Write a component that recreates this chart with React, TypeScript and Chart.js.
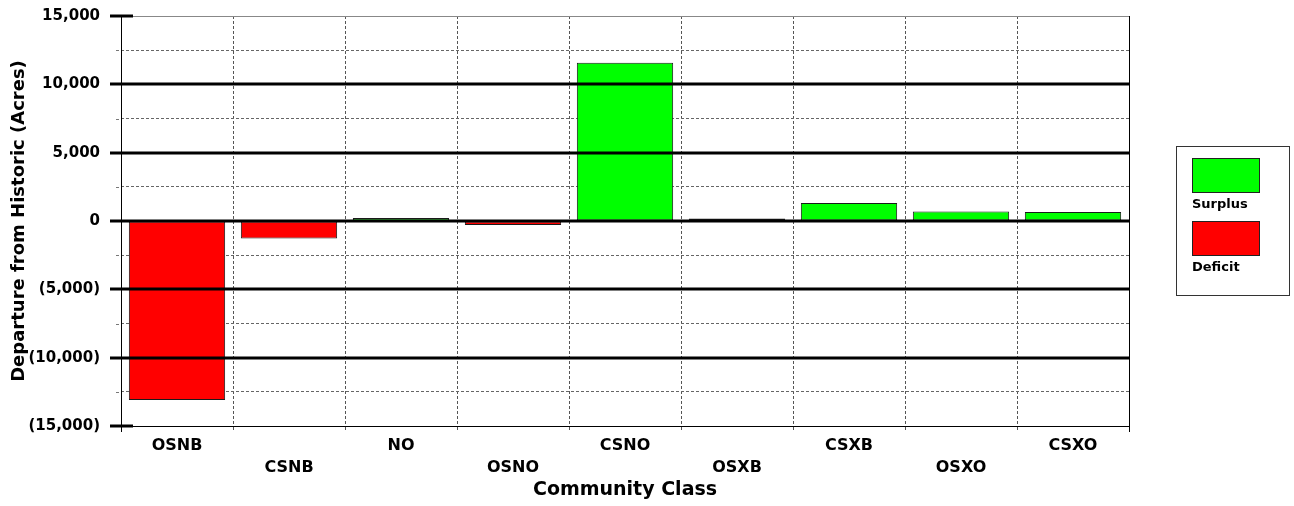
import React, { useEffect, useRef } from "react";
import { Chart, registerables } from "chart.js";

Chart.register(...registerables);

const categories = ["OSNB", "CSNB", "NO", "OSNO", "CSNO", "OSXB", "CSXB", "OSXO", "CSXO"];
const departures = [-13100, -1280, 220, -300, 11580, 180, 1320, 700, 650];
const yTickValues = [-15000, -10000, -5000, 0, 5000, 10000, 15000];
const legendLabels = ["Surplus", "Deficit"];
const xTitle = "Community Class";
const yTitle = "Departure from Historic (Acres)";

const FONT = "'DejaVu Sans', sans-serif";
const GREEN = "#00FF00";
const RED = "#FF0000";

function fmt(v: number): string {
  if (v === 0) return "0";
  const s = Math.abs(v).toLocaleString("en-US");
  return v < 0 ? `(${s})` : s;
}

const isMajor = (v: number) => v % 5000 === 0;

const decorPlugin = {
  id: "decor",
  afterDatasetsDraw(chart: any) {
    const ctx = chart.ctx as CanvasRenderingContext2D;
    const { left, right, top, bottom } = chart.chartArea;
    const y = chart.scales.y;
    ctx.save();
    // Major grid lines drawn over the bars
    for (const v of yTickValues) {
      const py = Math.round(y.getPixelForValue(v));
      ctx.beginPath();
      ctx.strokeStyle = "#000";
      ctx.lineWidth = 3;
      if (Math.abs(v) === 15000) {
        ctx.moveTo(left - 11, py);
        ctx.lineTo(left + 12, py);
      } else {
        ctx.moveTo(left - 11, py);
        ctx.lineTo(right, py);
      }
      ctx.stroke();
    }
    // Minor tick stubs
    for (let v = -12500; v <= 12500; v += 5000) {
      const py = Math.round(y.getPixelForValue(v)) + 0.5;
      ctx.beginPath();
      ctx.strokeStyle = "#777";
      ctx.lineWidth = 1;
      ctx.setLineDash([3, 2]);
      ctx.moveTo(left - 5, py);
      ctx.lineTo(left, py);
      ctx.stroke();
    }
    ctx.setLineDash([]);
    // Left and right borders (solid, extend slightly below)
    ctx.beginPath();
    ctx.strokeStyle = "#000";
    ctx.lineWidth = 1;
    ctx.moveTo(left + 0.5, top);
    ctx.lineTo(left + 0.5, bottom + 6);
    ctx.moveTo(right + 0.5, top);
    ctx.lineTo(right + 0.5, bottom + 6);
    ctx.stroke();
    ctx.restore();
  },
  afterDraw(chart: any) {
    const ctx = chart.ctx as CanvasRenderingContext2D;
    ctx.save();
    // Legend box
    const bx = 1176, by = 146, bw = 113, bh = 149;
    ctx.fillStyle = "#fff";
    ctx.fillRect(bx, by, bw, bh);
    ctx.strokeStyle = "#333";
    ctx.lineWidth = 1;
    ctx.strokeRect(bx + 0.5, by + 0.5, bw, bh);
    const colors = [GREEN, RED];
    const swY = [158, 221];
    ctx.font = `bold 13px ${FONT}`;
    ctx.textAlign = "left";
    ctx.textBaseline = "top";
    legendLabels.forEach((lab, i) => {
      ctx.fillStyle = colors[i];
      ctx.fillRect(1192, swY[i], 67, 34);
      ctx.strokeStyle = "#222";
      ctx.strokeRect(1192.5, swY[i] + 0.5, 67, 34);
      ctx.fillStyle = "#000";
      ctx.fillText(lab, 1192, swY[i] + 40);
    });
    ctx.restore();
  },
};

export default function App() {
  const ref = useRef<HTMLCanvasElement | null>(null);
  useEffect(() => {
    if (!ref.current) return;
    const surplus = departures.map((v) => (v > 0 ? v : null));
    const deficit = departures.map((v) => (v < 0 ? v : null));
    const chart = new Chart(ref.current, {
      type: "bar",
      data: {
        labels: categories,
        datasets: [
          {
            label: legendLabels[0],
            data: surplus,
            backgroundColor: GREEN,
            borderColor: "#1a1a1a",
            borderWidth: 1,
            borderSkipped: false,
            barPercentage: 0.86,
            categoryPercentage: 1,
          },
          {
            label: legendLabels[1],
            data: deficit,
            backgroundColor: RED,
            borderColor: "#1a1a1a",
            borderWidth: 1,
            borderSkipped: false,
            barPercentage: 0.86,
            categoryPercentage: 1,
          },
        ],
      },
      options: {
        animation: false,
        responsive: true,
        maintainAspectRatio: false,
        layout: { padding: { left: 0, top: 16, right: 165, bottom: 0 } },
        plugins: { legend: { display: false }, tooltip: { enabled: false } },
        scales: {
          x: {
            stacked: true,
            afterFit: (s: any) => {
              s.height = 80;
              s.paddingLeft = 0;
              s.paddingRight = 0;
            },
            grid: {
              offset: true,
              drawOnChartArea: true,
              color: (c: any) => (c.index === 0 || c.index === categories.length ? "#000" : "#555"),
              lineWidth: 1,
              tickLength: 6,
              tickColor: "#555",
              tickBorderDash: [3, 2],
            },
            border: {
              display: true,
              color: "#000",
              width: 1,
              dash: (c: any) => (c.index === 0 || c.index === categories.length ? [] : [3, 2]),
            },
            ticks: {
              autoSkip: false,
              maxRotation: 0,
              minRotation: 0,
              padding: 3,
              color: "#000",
              font: { family: FONT, weight: "bold", size: 16, lineHeight: 1.375 },
              callback: (_v: any, i: number) => (i % 2 === 0 ? [categories[i]] : ["", categories[i]]),
            },
            title: {
              display: true,
              text: xTitle,
              color: "#000",
              font: { family: FONT, weight: "bold", size: 19, lineHeight: 1.2 },
              padding: { top: 0, bottom: 5 },
            },
          },
          y: {
            stacked: true,
            min: -15000,
            max: 15000,
            afterFit: (s: any) => {
              s.width = 121;
              s.paddingTop = 0;
              s.paddingBottom = 0;
            },
            grid: {
              drawTicks: false,
              color: (c: any) => {
                const v = c.tick ? c.tick.value : 0;
                if (v === 15000) return "#888";
                if (v === -15000) return "#000";
                return isMajor(v) ? "rgba(0,0,0,0)" : "#666";
              },
              lineWidth: 1,
            },
            border: {
              display: false,
              dash: (c: any) => {
                const v = c.tick ? c.tick.value : 0;
                return isMajor(v) ? [] : [3, 2];
              },
            },
            ticks: {
              stepSize: 2500,
              padding: 21,
              color: "#000",
              font: { family: FONT, weight: "bold", size: 15 },
              callback: (v: any) => (isMajor(Number(v)) ? fmt(Number(v)) : ""),
            },
            title: {
              display: true,
              text: yTitle,
              color: "#000",
              font: { family: FONT, weight: "bold", size: 18, lineHeight: 1.2 },
              padding: { top: 9, bottom: 0 },
            },
          },
        },
      },
      plugins: [decorPlugin],
    });
    return () => chart.destroy();
  }, []);
  return (
    <div style={{ position: "absolute", left: 0, top: 0, width: 1294, height: 506 }}>
      <canvas ref={ref} />
    </div>
  );
}
